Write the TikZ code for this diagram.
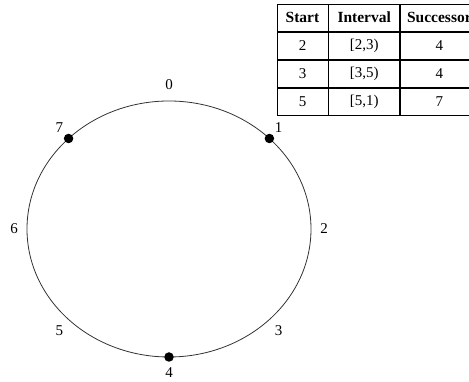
\documentclass[tikz,border=0pt]{standalone}
\usepackage{fontspec}
\setmainfont{Liberation Serif}
\usetikzlibrary{positioning}

\begin{document}
\begin{tikzpicture}[x=1pt, y=1pt,
  ring/.style={draw=black!80, line width=0.8pt},
  peer/.style={circle, fill=black, inner sep=0pt, minimum size=9.5pt},
  idx/.style={inner sep=0pt, font=\fontsize{15}{17}\selectfont},
  cell/.style={draw, line width=0.7pt, minimum height=27.3pt, inner sep=0pt, font=\fontsize{15}{17}\selectfont},
  head/.style={cell, font=\fontsize{15.5}{17}\selectfont\bfseries},
  colA/.style={minimum width=51pt},
  colB/.style={minimum width=71pt},
  colC/.style={minimum width=84pt}
]
  \useasboundingbox (0,0) rectangle (469,382);

  % identifier ring
  \coordinate (ctr) at (169,153);
  \draw[ring] (ctr) ellipse [x radius=142, y radius=128];
  \foreach \i in {0,...,7}
    \node[idx] (l\i) at ({169+155*cos(90-45*\i)}, {153+144*sin(90-45*\i)}) {\i};
  \foreach \i in {1,4,7}
    \node[peer] (p\i) at ({169+142*cos(90-45*\i)}, {153+128*sin(90-45*\i)}) {};

  % finger table
  \node[head, colA] (st) at (302.5,364.35) {Start};
  \node[head, colB, right=0pt of st] (iv) {Interval};
  \node[head, colC, right=0pt of iv] (sc) {\hspace*{-6pt}Successor};

  \node[cell, colA, below=0pt of st] (st1) {2};
  \node[cell, colB, below=0pt of iv] (iv1) {[2,3)};
  \node[cell, colC, below=0pt of sc] (sc1) {\hspace*{-6pt}4};

  \node[cell, colA, below=0pt of st1] (st2) {3};
  \node[cell, colB, below=0pt of iv1] (iv2) {[3,5)};
  \node[cell, colC, below=0pt of sc1] (sc2) {\hspace*{-6pt}4};

  \node[cell, colA, below=0pt of st2] (st3) {5};
  \node[cell, colB, below=0pt of iv2] (iv3) {[5,1)};
  \node[cell, colC, below=0pt of sc2] (sc3) {\hspace*{-6pt}7};
\end{tikzpicture}
\end{document}
